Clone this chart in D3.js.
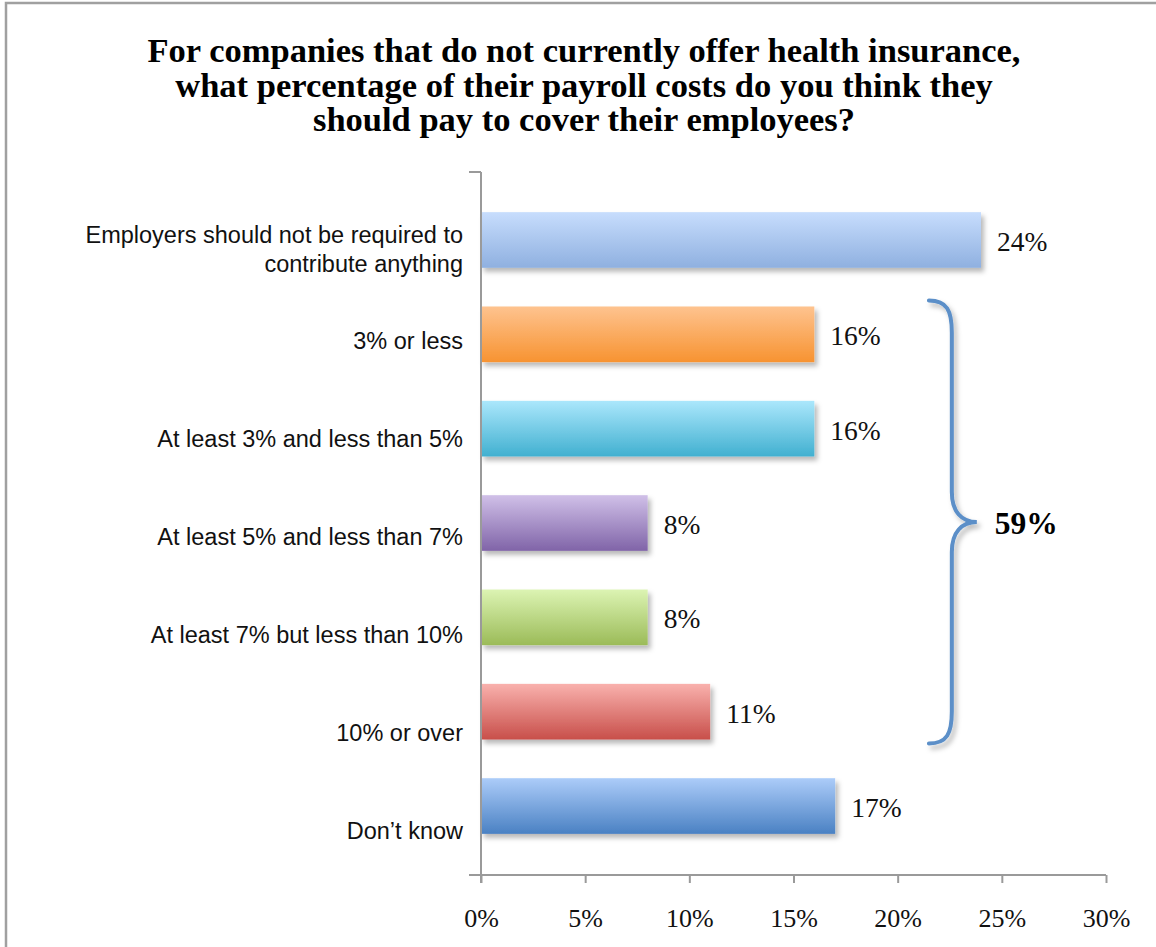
<!DOCTYPE html>
<html>
<head>
<meta charset="utf-8">
<script src="https://cdn.jsdelivr.net/npm/d3@7"></script>
<style>
  html, body { margin: 0; padding: 0; background: #fff; }
  svg { display: block; }
</style>
</head>
<body>
<svg id="chart" width="1156" height="947"></svg>
<script>
const titleLines = [
  "For companies that do not currently offer health insurance,",
  "what percentage of their payroll costs do you think they",
  "should pay to cover their employees?"
];
const categories = [
  "Employers should not be required to contribute anything",
  "3% or less",
  "At least 3% and less than 5%",
  "At least 5% and less than 7%",
  "At least 7% but less than 10%",
  "10% or over",
  "Don\u2019t know"
];
const categoryLines = [
  ["Employers should not be required to", "contribute anything"],
  ["3% or less"],
  ["At least 3% and less than 5%"],
  ["At least 5% and less than 7%"],
  ["At least 7% but less than 10%"],
  ["10% or over"],
  ["Don\u2019t know"]
];
const values = [24, 16, 16, 8, 8, 11, 17];
const topColors    = ["#c7ddfd", "#fec38f", "#abe7fc", "#d0c0e8", "#dcf4b3", "#f9b1ad", "#acccf9"];
const bottomColors = ["#8fb0e0", "#f79331", "#41b0d0", "#8064a8", "#9bbb58", "#c84f4a", "#4a81c3"];
const xTicks = [0, 5, 10, 15, 20, 25, 30];
const bracketIdx = [1, 2, 3, 4, 5];

(function () {
const svg = d3.select("#chart");
const defs = svg.append("defs");

// frame
svg.append("rect").attr("x", 6).attr("y", 3).attr("width", 1300).attr("height", 1100)
  .attr("fill", "#fff").attr("stroke", "#a0a0a0").attr("stroke-width", 2.5);

// shadow filter
const f = defs.append("filter").attr("id", "shadow").attr("x", "-10%").attr("y", "-20%").attr("width", "130%").attr("height", "160%");
f.append("feDropShadow").attr("dx", 3).attr("dy", 4).attr("stdDeviation", 2.5)
  .attr("flood-color", "#000").attr("flood-opacity", 0.28);

categories.forEach((c, i) => {
  const g = defs.append("linearGradient").attr("id", "grad" + i)
    .attr("x1", 0).attr("y1", 0).attr("x2", 0).attr("y2", 1);
  g.append("stop").attr("offset", "0%").attr("stop-color", topColors[i]);
  g.append("stop").attr("offset", "100%").attr("stop-color", bottomColors[i]);
});

// title
svg.append("g").selectAll("text").data(titleLines).join("text")
  .attr("x", 584).attr("y", (d, i) => 62 + i * 34.5)
  .attr("text-anchor", "middle")
  .attr("font-family", "'Liberation Serif', serif").attr("font-weight", "bold")
  .attr("font-size", 34.5).attr("fill", "#000")
  .text(d => d);

const x = d3.scaleLinear().domain([0, 30]).range([481, 1106]);
const y = d3.scaleBand().domain(categories).range([192.8, 853.2])
  .paddingInner(0.41).paddingOuter(0.205);
const yLab = d3.scaleBand().domain(categories).range([191, 877]);
const axisTop = 172, axisBottom = 875;

// bars
svg.append("g").selectAll("rect").data(categories).join("rect")
  .attr("x", x(0)).attr("y", d => y(d))
  .attr("width", (d, i) => x(values[i]) - x(0))
  .attr("height", y.bandwidth())
  .attr("fill", (d, i) => `url(#grad${i})`)
  .attr("filter", "url(#shadow)");

// value labels
svg.append("g").selectAll("text").data(categories).join("text")
  .attr("x", (d, i) => x(values[i]) + 16)
  .attr("y", d => y(d) + y.bandwidth() / 2 + 11)
  .attr("font-family", "'Liberation Serif', serif").attr("font-size", 27.5).attr("fill", "#111")
  .text((d, i) => values[i] + "%");

// category labels
const lab = svg.append("g").selectAll("text").data(categories).join("text")
  .attr("text-anchor", "end")
  .attr("font-family", "'Liberation Sans', Arial, sans-serif").attr("font-size", 23.5).attr("fill", "#111");
lab.each(function(d, i) {
  const lines = categoryLines[i];
  const n = lines.length;
  const cy = yLab(d) + yLab.bandwidth() / 2;
  const lh = 29;
  const start = cy + 10.5 - (n - 1) * lh / 2 + (n - 1) * 7;
  d3.select(this).selectAll("tspan").data(lines).join("tspan")
    .attr("x", 463).attr("y", (t, k) => start + k * lh).text(t => t);
});

// axes
const axisColor = "#9a9a9a";
svg.append("line").attr("x1", x(0)).attr("x2", x(0)).attr("y1", axisTop).attr("y2", axisBottom + 8)
  .attr("stroke", axisColor).attr("stroke-width", 2);
svg.append("line").attr("x1", x(0) - 12).attr("x2", x(0)).attr("y1", axisTop).attr("y2", axisTop)
  .attr("stroke", axisColor).attr("stroke-width", 2);
svg.append("line").attr("x1", x(0) - 12).attr("x2", x(30)).attr("y1", axisBottom).attr("y2", axisBottom)
  .attr("stroke", axisColor).attr("stroke-width", 2);

const xa = svg.append("g").attr("transform", `translate(0,${axisBottom})`)
  .call(d3.axisBottom(x).tickValues(xTicks).tickSize(8).tickFormat(d => d + "%"));
xa.select(".domain").remove();
xa.selectAll(".tick line").attr("stroke", axisColor).attr("stroke-width", 2);
xa.selectAll(".tick text").attr("y", 52).attr("dy", 0)
  .attr("font-family", "'Liberation Serif', serif").attr("font-size", 26).attr("fill", "#111");

// bracket
const bTop = y(categories[bracketIdx[0]]) - 6;
const bBot = y(categories[bracketIdx[bracketIdx.length - 1]]) + y.bandwidth() + 4;
const mid = (bTop + bBot) / 2;
const ex = x(21.5), xb = x(22.6), tip = x(23.8);
const p = d3.path();
p.moveTo(ex, bTop);
p.bezierCurveTo(ex + 18, bTop, xb, bTop + 10, xb, bTop + 32);
p.lineTo(xb, mid - 30);
p.bezierCurveTo(xb, mid - 10, xb + 10, mid, tip, mid);
p.bezierCurveTo(xb + 10, mid, xb, mid + 10, xb, mid + 30);
p.lineTo(xb, bBot - 32);
p.bezierCurveTo(xb, bBot - 10, ex + 18, bBot, ex, bBot);
svg.append("path").attr("d", p.toString()).attr("fill", "none")
  .attr("stroke", "#5b8fc8").attr("stroke-width", 4).attr("stroke-linecap", "round")
  .attr("filter", "url(#shadow)");

const total = d3.sum(bracketIdx, i => values[i]);
svg.append("text").attr("x", tip + 18).attr("y", mid + 12)
  .attr("font-family", "'Liberation Serif', serif").attr("font-weight", "bold")
  .attr("font-size", 31.5).attr("fill", "#000")
  .text(total + "%");
})();
</script>
</body>
</html>
